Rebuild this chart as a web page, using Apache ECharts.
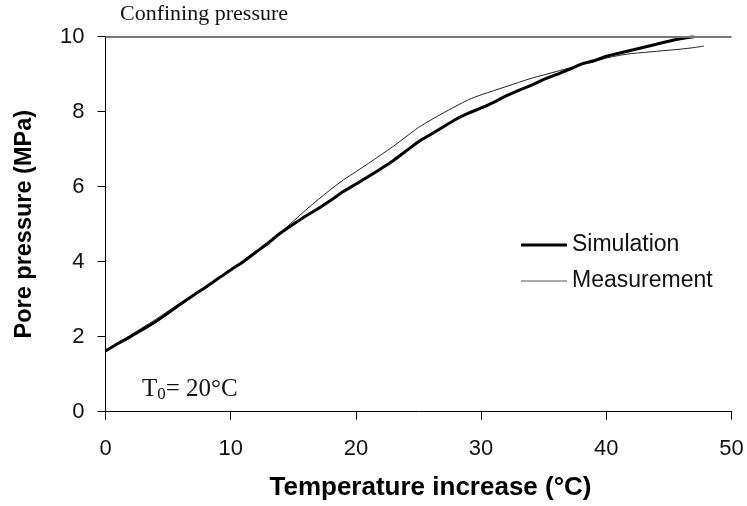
<!DOCTYPE html>
<html>
<head>
<meta charset="utf-8">
<script src="https://cdn.jsdelivr.net/npm/echarts@6/dist/echarts.min.js"></script>
<style>html,body{margin:0;padding:0;background:#fff}#c{width:747px;height:506px}</style>
</head>
<body>
<div id="c"></div>
<script>
// Temperature increase (°C)
const simX = [0,1,2,3,4,5,6,7,8,9,10,11,12,13,14,15,16,17,18,19,20,21,22,23,24,25,26,27,28,29,30,31,32,33,34,35,36,37,38,39,40,41,42,43,44,45,46,47];
// Pore pressure (MPa), simulation
const simY = [1.62,1.82,2.0,2.2,2.4,2.63,2.87,3.1,3.32,3.55,3.78,4.0,4.25,4.5,4.77,5.0,5.22,5.42,5.64,5.87,6.07,6.27,6.48,6.7,6.95,7.2,7.4,7.6,7.8,7.96,8.1,8.25,8.42,8.57,8.7,8.86,8.99,9.12,9.27,9.36,9.48,9.56,9.64,9.72,9.8,9.88,9.95,10.0];
const measX = [0,1,2,3,4,5,6,7,8,9,10,11,12,13,14,15,16,17,18,19,20,21,22,23,24,25,26,27,28,29,30,31,32,33,34,35,36,37,38,39,40,41,42,43,44,45,46,47,47.8];
// Pore pressure (MPa), measurement
const measY = [1.62,1.84,2.04,2.25,2.46,2.68,2.9,3.12,3.34,3.56,3.78,4.0,4.25,4.5,4.78,5.08,5.38,5.66,5.93,6.18,6.4,6.62,6.85,7.08,7.33,7.58,7.78,7.97,8.15,8.32,8.45,8.56,8.67,8.78,8.89,8.98,9.07,9.16,9.25,9.33,9.43,9.5,9.55,9.58,9.61,9.64,9.67,9.71,9.75];
const xTicks = [0,10,20,30,40,50];
const yTicks = [0,2,4,6,8,10];
const confining = 10;
const seriesNames = ['Simulation','Measurement'];

const chart = echarts.init(document.getElementById('c'), null, {renderer:'canvas'});
const sans = '"Liberation Sans", Arial, sans-serif';
const serif = '"Liberation Serif", "Times New Roman", serif';
const legendText = {fontFamily:sans, fontSize:23, color:'#111'};
chart.setOption({
  animation:false,
  backgroundColor:'#fff',
  grid:{left:105.5, right:15.5, top:36.7, bottom:94.3, containLabel:false},
  xAxis:{
    type:'value', min:xTicks[0], max:xTicks[xTicks.length-1], interval:10,
    name:'Temperature increase (°C)', nameLocation:'middle', nameGap:63,
    nameTextStyle:{fontFamily:sans, fontWeight:'bold', fontSize:26, color:'#000', padding:[0,0,0,24]},
    axisLine:{onZero:false, lineStyle:{color:'#000', width:1}},
    axisTick:{show:true, inside:false, length:8, lineStyle:{color:'#000'}},
    axisLabel:{margin:26, fontFamily:sans, fontSize:22, color:'#111'},
    splitLine:{show:false}
  },
  yAxis:{
    type:'value', min:yTicks[0], max:yTicks[yTicks.length-1], interval:2,
    name:'Pore pressure (MPa)', nameLocation:'middle', nameGap:69, nameRotate:90,
    nameTextStyle:{fontFamily:sans, fontWeight:'bold', fontSize:23.5, color:'#000'},
    axisLine:{show:true, lineStyle:{color:'#000', width:1}},
    axisTick:{show:true, inside:false, length:8, lineStyle:{color:'#000'}},
    axisLabel:{margin:21, fontFamily:sans, fontSize:22, color:'#111'},
    splitLine:{show:false}
  },
  legend:[
    {left:516, top:228.5, itemWidth:46, itemHeight:3, icon:'rect',
     data:[seriesNames[0]], textStyle:legendText},
    {left:516, top:264.5, itemWidth:46, itemHeight:1, icon:'rect',
     data:[seriesNames[1]], textStyle:legendText}
  ],
  series:[
    {name:seriesNames[0], type:'line', symbol:'none', smooth:0.3,
     data:simX.map((x,i)=>[x,simY[i]]),
     lineStyle:{color:'#000', width:3}, itemStyle:{color:'#000'}, z:3,
     markLine:{silent:true, symbol:'none', label:{show:false},
       lineStyle:{color:'#777', width:2, type:'solid'},
       data:[{yAxis:confining}]}},
    {name:seriesNames[1], type:'line', symbol:'none', smooth:0.3,
     data:measX.map((x,i)=>[x,measY[i]]),
     lineStyle:{color:'#222', width:1}, itemStyle:{color:'#555'}, z:2}
  ],
  graphic:[
    {type:'text', left:120, top:3, style:{text:'Confining pressure', font:'22px '+serif, fill:'#111'}},
    {type:'text', left:142, top:377, style:{
      text:'{t|T}{s|0}{t|= 20°C}',
      rich:{t:{fontFamily:serif, fontSize:25, fill:'#111', color:'#111'},
            s:{fontFamily:serif, fontSize:17, fill:'#111', color:'#111', padding:[10,0,0,0]}}}}
  ]
});
</script>
</body>
</html>
